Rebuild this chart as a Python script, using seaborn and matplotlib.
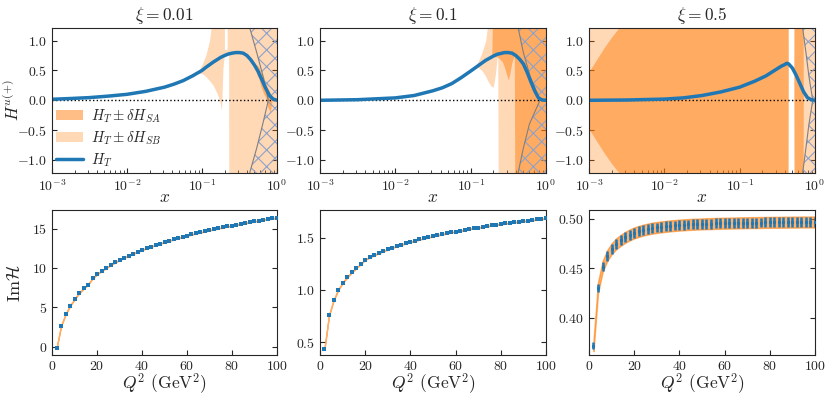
import numpy as np
import matplotlib
matplotlib.use("Agg")
import matplotlib.pyplot as plt
import seaborn as sns
from matplotlib.patches import Patch
from matplotlib.lines import Line2D

xi_vals = ["0.01", "0.1", "0.5"]

# H_T(x) for each xi, x given as log10(x)
logx1 = [-3.0, -2.75, -2.5, -2.25, -2.0, -1.75, -1.5, -1.375, -1.25, -1.125, -1.0, -0.95, -0.9,
         -0.85, -0.8, -0.75, -0.7, -0.65, -0.6, -0.55, -0.5, -0.45, -0.4, -0.35, -0.3, -0.25,
         -0.2, -0.15, -0.1, -0.05, 0.0]
ht1 = [0.017, 0.03, 0.045, 0.07, 0.10, 0.15, 0.22, 0.27, 0.33, 0.41, 0.50, 0.55, 0.595,
       0.64, 0.68, 0.72, 0.75, 0.775, 0.79, 0.80, 0.80, 0.79, 0.75, 0.68, 0.59, 0.48,
       0.34, 0.20, 0.08, 0.02, 0.0]
logx2 = [-3.0, -2.5, -2.0, -1.75, -1.5, -1.375, -1.25, -1.125, -1.0, -0.9, -0.8, -0.7, -0.65,
         -0.6, -0.55, -0.5, -0.45, -0.4, -0.35, -0.3, -0.25, -0.2, -0.15, -0.1, -0.05, 0.0]
ht2 = [0.0, 0.01, 0.04, 0.08, 0.16, 0.21, 0.28, 0.38, 0.49, 0.58, 0.67, 0.74, 0.77,
       0.785, 0.80, 0.80, 0.79, 0.75, 0.69, 0.61, 0.47, 0.31, 0.16, 0.04, 0.005, 0.0]
logx3 = [-3.0, -2.5, -2.0, -1.75, -1.5, -1.25, -1.0, -0.8, -0.65, -0.55, -0.45, -0.4, -0.375,
         -0.35, -0.3, -0.25, -0.2, -0.15, -0.1, -0.05, 0.0]
ht3 = [0.0, 0.005, 0.02, 0.04, 0.08, 0.14, 0.22, 0.32, 0.41, 0.49, 0.57, 0.60, 0.62,
       0.61, 0.54, 0.42, 0.28, 0.14, 0.045, 0.01, 0.0]

# H_T +- dH_SB (light band)
sb_x1 = [-1.15, -1.05, -1.0, -0.95, -0.9, -0.85, -0.8, -0.77, -0.75, -0.74, -0.72, -0.705, -0.70,
         -0.665, -0.66, -0.645, -0.64, 0.0]
sb_lo1 = [0.38, 0.46, 0.45, 0.40, 0.33, 0.25, 0.12, 0.02, -0.10, -0.17, 0.55, 0.72, 0.73,
          0.76, 0.76, 0.76, -3, -3]
sb_hi1 = [0.38, 0.48, 0.60, 0.75, 1.0, 1.5, 3, 3, 3, 3, 3, 3, 0.85, 0.85, 3, 3, 3, 3]
sb_x2 = [-0.95, -0.9, -0.85, -0.8, -0.77, -0.73, -0.70, -0.67, -0.65, -0.64, -0.63, 0.0]
sb_lo2 = [0.54, 0.55, 0.50, 0.40, 0.32, 0.24, 0.22, 0.45, 0.70, 0.76, -3, -3]
sb_hi2 = [0.54, 0.65, 0.80, 1.0, 1.3, 3, 3, 3, 3, 3, 3, 3]
sb_x3 = [-3.0, -0.36, -0.355, -0.28, -0.275, 0.0]
sb_lo3 = [-3, -3, 0.61, 0.50, -3, -3]
sb_hi3 = [3, 3, 0.61, 0.50, 3, 3]

# H_T +- dH_SA (dark band)
sa_x1 = [-0.30, -0.27, -0.24, -0.21, -0.18, -0.15, -0.12, -0.09, -0.06]
sa_lo1 = [0.59, 0.44, 0.36, 0.22, 0.12, 0.05, -0.12, -0.20, 0.03]
sa_hi1 = [0.59, 0.60, 0.55, 0.46, 0.40, 0.28, 0.20, 0.12, 0.03]
sa_x2 = [-0.72, -0.68, -0.62, -0.58, -0.55, -0.52, -0.50, -0.48, -0.45, -0.42, -0.41, 0.0]
sa_lo2 = [0.73, 0.75, 0.70, 0.65, 0.55, 0.42, 0.34, 0.45, 0.65, 0.75, -3, -3]
sa_hi2 = [0.73, 3, 3, 3, 3, 3, 3, 3, 3, 3, 3, 3]
sa_x3 = [-3.0, -2.9, -2.8, -2.7, -2.6, -2.5, -0.36, -0.355, -0.28, -0.275, -0.16, -0.155]
sa_lo3 = [-0.48, -0.68, -0.88, -1.06, -1.22, -3, -3, 0.61, 0.50, -3, -3, 0.12]
sa_hi3 = [0.48, 0.68, 0.88, 1.06, 1.22, 3, 3, 0.61, 0.50, 3, 3, 0.12]

# excluded (hatched) region boundary, log10(x) vs H
hatch_y = [-1.3, -1.2, -0.8, -0.4, 0.0, 0.4, 0.8, 1.2, 1.3]
hatch_x1 = [-0.37, -0.36, -0.27, -0.19, -0.115, -0.185, -0.27, -0.36, -0.37]
hatch_x2 = [-0.38, -0.367, -0.30, -0.22, -0.08, -0.21, -0.30, -0.367, -0.38]
hatch_x3 = [-0.17, -0.162, -0.12, -0.08, -0.03, -0.08, -0.12, -0.162, -0.17]

# Im H vs Q^2
q2 = [2, 4, 6, 8, 10, 12, 14, 16, 18, 20, 22, 24, 26, 28, 30, 32, 34, 36, 38, 40,
      42, 44, 46, 48, 50, 52, 54, 56, 58, 60, 62, 64, 66, 68, 70, 72, 74, 76, 78, 80,
      82, 84, 86, 88, 90, 92, 94, 96, 98, 100]
imh1 = [-0.2, 2.64, 4.1, 5.2, 6.04, 6.8, 7.4, 7.9, 8.7, 9.2, 9.63, 10.01, 10.37, 10.70, 11.01,
        11.30, 11.57, 11.83, 12.07, 12.30, 12.52, 12.72, 12.92, 13.11, 13.30, 13.47, 13.64, 13.80,
        13.96, 14.11, 14.26, 14.40, 14.54, 14.67, 14.80, 14.93, 15.05, 15.17, 15.28, 15.40, 15.51,
        15.61, 15.72, 15.82, 15.92, 16.02, 16.12, 16.21, 16.30, 16.39]
imh2 = [0.44, 0.76, 0.90, 1.0, 1.07, 1.12, 1.17, 1.21, 1.25, 1.29, 1.313, 1.335, 1.354, 1.372,
        1.389, 1.405, 1.420, 1.434, 1.447, 1.460, 1.472, 1.483, 1.494, 1.504, 1.514, 1.524, 1.533,
        1.542, 1.551, 1.559, 1.567, 1.575, 1.583, 1.590, 1.597, 1.604, 1.611, 1.617, 1.623, 1.630,
        1.636, 1.642, 1.647, 1.653, 1.658, 1.664, 1.669, 1.674, 1.679, 1.684]
imh3 = [0.372, 0.4305, 0.4515, 0.4625, 0.4695, 0.4745, 0.478, 0.481, 0.4835, 0.4855, 0.487, 0.4883,
        0.4894, 0.4903, 0.491, 0.4916, 0.4921, 0.4926, 0.493, 0.4934, 0.4937, 0.494, 0.4942, 0.4944,
        0.4946, 0.4948, 0.4949, 0.4951, 0.4952, 0.4953, 0.4954, 0.4955, 0.4956, 0.4957, 0.4958,
        0.4959, 0.4959, 0.496, 0.4961, 0.4961, 0.4962, 0.4962, 0.4963, 0.4963, 0.4964, 0.4964,
        0.4965, 0.4965, 0.4965, 0.4966]
err1 = 0.04
err2 = 0.003
err3 = [0.0035, 0.004, 0.0045, 0.0048, 0.005, 0.005, 0.005, 0.005, 0.005, 0.005,
        0.005, 0.005, 0.005, 0.005, 0.005, 0.005, 0.005, 0.005, 0.005, 0.005,
        0.005, 0.005, 0.005, 0.005, 0.005, 0.005, 0.005, 0.005, 0.005, 0.005,
        0.005, 0.005, 0.005, 0.005, 0.005, 0.005, 0.005, 0.005, 0.005, 0.005,
        0.005, 0.005, 0.005, 0.005, 0.005, 0.005, 0.005, 0.005, 0.005, 0.005]
band3 = 0.0055

sns.set_style("ticks")
plt.rcParams.update({
    "font.family": "serif",
    "font.serif": ["cmr10", "DejaVu Serif"],
    "mathtext.fontset": "cm",
    "axes.formatter.use_mathtext": True,
    "axes.unicode_minus": True,
    "xtick.direction": "in",
    "ytick.direction": "in",
    "xtick.labelsize": 10,
    "ytick.labelsize": 10,
    "axes.labelsize": 12.5,
    "axes.titlesize": 12.5,
    "hatch.linewidth": 0.8,
})

blue = "#1f77b4"
orange = "#ff7f0e"
hatch_col = "#8fa2c8"

fig = plt.figure(figsize=(8.3, 3.96), dpi=100)
lefts = [0.0627, 0.3855, 0.7096]
widths = [0.271, 0.2723, 0.2723]
top_axes = [fig.add_axes([l, 0.563, w, 0.366]) for l, w in zip(lefts, widths)]
bot_axes = [fig.add_axes([l, 0.1035, w, 0.366]) for l, w in zip(lefts, widths)]

top_data = [
    (logx1, ht1, sb_x1, sb_lo1, sb_hi1, sa_x1, sa_lo1, sa_hi1, hatch_x1),
    (logx2, ht2, sb_x2, sb_lo2, sb_hi2, sa_x2, sa_lo2, sa_hi2, hatch_x2),
    (logx3, ht3, sb_x3, sb_lo3, sb_hi3, sa_x3, sa_lo3, sa_hi3, hatch_x3),
]

for ax, xi, d in zip(top_axes, xi_vals, top_data):
    lx, ht, sbx, sblo, sbhi, sax, salo, sahi, hx = d
    ax.fill_between(10 ** np.array(sbx), sblo, sbhi, color=orange, alpha=0.3, lw=0)
    ax.fill_between(10 ** np.array(sax), salo, sahi, color=orange, alpha=0.5, lw=0)
    hxv = 10 ** np.array(hx)
    ax.fill_betweenx(hatch_y, hxv, 1.0, facecolor="none", edgecolor=hatch_col, hatch="xx", lw=0)
    ax.plot(hxv, hatch_y, color="gray", lw=0.8)
    ax.axhline(0, color="k", ls=":", lw=1)
    sns.lineplot(x=10 ** np.array(lx), y=ht, ax=ax, color=blue, lw=2.5)
    ax.set_xscale("log")
    ax.set_xlim(1e-3, 1)
    ax.set_ylim(-1.22, 1.21)
    ax.set_yticks([-1.0, -0.5, 0.0, 0.5, 1.0])
    ax.set_title(r"$\xi = %s$" % xi, pad=6)
    ax.set_xlabel(r"$x$", labelpad=-3)
    ax.tick_params(which="both", right=True)

top_axes[0].set_ylabel(r"$H^{u(+)}$", fontsize=12)
top_axes[0].yaxis.set_label_coords(-0.135, 0.5)
handles = [Patch(color=orange, alpha=0.5, lw=0), Patch(color=orange, alpha=0.3, lw=0),
           Line2D([], [], color=blue, lw=2.5)]
labels = [r"$H_T \pm \delta H_{SA}$", r"$H_T \pm \delta H_{SB}$", r"$H_T$"]
top_axes[0].legend(handles, labels, loc="lower left", frameon=False, fontsize=10.5,
                   handlelength=1.8, handletextpad=0.6, labelspacing=0.3,
                   borderaxespad=0.0, borderpad=0.3)

bot_data = [(imh1, err1, None), (imh2, err2, None), (imh3, band3, err3)]
bot_ylim = [(-1.06, 17.36), (0.379, 1.764), (0.3627, 0.5085)]
bot_yticks = [[0, 5, 10, 15], [0.5, 1.0, 1.5], [0.40, 0.45, 0.50]]

for ax, (v, band, bars), yl, yt in zip(bot_axes, bot_data, bot_ylim, bot_yticks):
    v = np.array(v)
    ax.fill_between(q2, v - band, v + band, color=orange, alpha=0.6, lw=1)
    if bars is None:
        sns.scatterplot(x=q2, y=v, ax=ax, color=blue, marker="s", s=5, linewidth=0, zorder=3)
    else:
        ax.errorbar(q2, v, yerr=bars, fmt="s", ms=1.2, color=blue, elinewidth=1.8,
                    capsize=0, zorder=3)
    ax.set_xlim(0, 100)
    ax.set_ylim(*yl)
    ax.set_yticks(yt)
    ax.set_xticks([0, 20, 40, 60, 80, 100])
    ax.set_xlabel(r"$Q^2$ (GeV$^2$)", labelpad=-1)
    ax.tick_params(which="both", right=True)

bot_axes[0].set_ylabel(r"$\mathrm{Im}\mathcal{H}$", fontsize=13)
bot_axes[0].yaxis.set_label_coords(-0.13, 0.5)

fig.savefig("out.png", dpi=100)
